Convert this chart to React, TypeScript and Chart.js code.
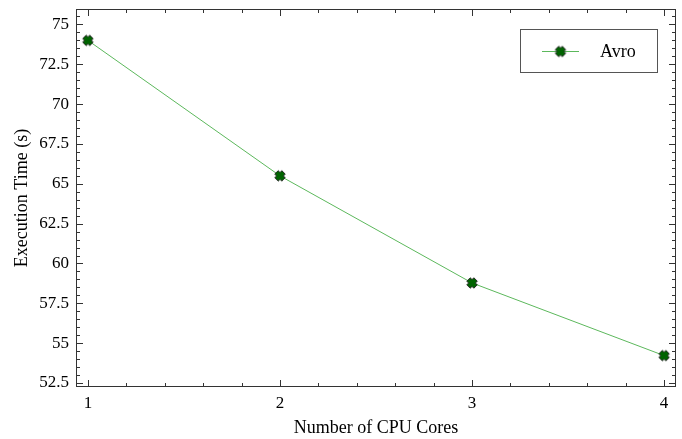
import React, { useEffect, useRef } from "react";
import { Chart, registerables } from "chart.js";

Chart.register(...registerables);

// ---- data ----
const cores = [1, 2, 3, 4];
const avroTimes = [74.0, 65.5, 58.78, 54.22];
const seriesLabel = "Avro";
const xTickValues = [1, 2, 3, 4];
const yTickValues = [52.5, 55, 57.5, 60, 62.5, 65, 67.5, 70, 72.5, 75];
const xTitle = "Number of CPU Cores";
const yTitle = "Execution Time (s)";

const X_MIN = 0.938;
const X_MAX = 4.062;
const Y_MIN = 52.25;
const Y_MAX = 75.97;
const X_MINOR_STEP = 0.2;
const Y_MINOR_STEP = 0.5;

const FONT = "'Liberation Serif', 'Times New Roman', serif";
const LINE_COLOR = "#5cb85c";
const AXIS_COLOR = "#333333";

function makeMarker(): HTMLCanvasElement {
  const c = document.createElement("canvas");
  const s = 14;
  c.width = s;
  c.height = s;
  const ctx = c.getContext("2d")!;
  ctx.translate(s / 2, s / 2);
  ctx.rotate(Math.PI / 4);
  const L = 5.0;
  const W = 2.4;
  ctx.beginPath();
  ctx.moveTo(-W, -L);
  ctx.lineTo(W, -L);
  ctx.lineTo(W, -W);
  ctx.lineTo(L, -W);
  ctx.lineTo(L, W);
  ctx.lineTo(W, W);
  ctx.lineTo(W, L);
  ctx.lineTo(-W, L);
  ctx.lineTo(-W, W);
  ctx.lineTo(-L, W);
  ctx.lineTo(-L, -W);
  ctx.lineTo(-W, -W);
  ctx.closePath();
  ctx.fillStyle = "#006400";
  ctx.fill();
  ctx.lineWidth = 0.9;
  ctx.strokeStyle = "#222222";
  ctx.stroke();
  return c;
}

function stepsBetween(lo: number, hi: number, step: number): number[] {
  const out: number[] = [];
  const start = Math.ceil(lo / step - 1e-9);
  const end = Math.floor(hi / step + 1e-9);
  for (let i = start; i <= end; i++) out.push(+(i * step).toFixed(6));
  return out;
}

const framePlugin = {
  id: "frameTicks",
  afterDraw(chart: any) {
    const { ctx, chartArea } = chart;
    const { left, right, top, bottom } = chartArea;
    const xs = chart.scales.x;
    const ys = chart.scales.y;
    ctx.save();
    ctx.strokeStyle = AXIS_COLOR;
    ctx.lineWidth = 1;
    // frame
    ctx.strokeRect(Math.round(left) + 0.5, Math.round(top) + 0.5, Math.round(right - left) - 1, Math.round(bottom - top) - 1);
    const MAJ = 7;
    const MIN = 4;
    const isMajor = (v: number, arr: number[]) => arr.some((a) => Math.abs(a - v) < 1e-6);
    ctx.beginPath();
    for (const v of stepsBetween(X_MIN, X_MAX, X_MINOR_STEP)) {
      const len = isMajor(v, xTickValues) ? MAJ : MIN;
      const px = Math.round(xs.getPixelForValue(v)) + 0.5;
      ctx.moveTo(px, bottom);
      ctx.lineTo(px, bottom - len);
      ctx.moveTo(px, top);
      ctx.lineTo(px, top + len);
    }
    for (const v of stepsBetween(Y_MIN, Y_MAX, Y_MINOR_STEP)) {
      const len = isMajor(v, yTickValues) ? MAJ : MIN;
      const py = Math.round(ys.getPixelForValue(v)) + 0.5;
      ctx.moveTo(left, py);
      ctx.lineTo(left + len, py);
      ctx.moveTo(right, py);
      ctx.lineTo(right - len, py);
    }
    ctx.stroke();

    // legend
    const bx = 520.5, by = 29.5, bw = 137, bh = 43;
    ctx.fillStyle = "#ffffff";
    ctx.fillRect(bx, by, bw, bh);
    ctx.strokeStyle = "#555555";
    ctx.strokeRect(bx, by, bw, bh);
    const ly = 51;
    ctx.strokeStyle = LINE_COLOR;
    ctx.beginPath();
    ctx.moveTo(542, ly + 0.5);
    ctx.lineTo(579, ly + 0.5);
    ctx.stroke();
    const m = chart.$marker as HTMLCanvasElement;
    if (m) ctx.drawImage(m, 560.5 - m.width / 2, ly + 0.5 - m.height / 2);
    ctx.fillStyle = "#000";
    ctx.font = `18px ${FONT}`;
    ctx.textAlign = "left";
    ctx.textBaseline = "middle";
    ctx.fillText(seriesLabel, 600, ly + 1);
    ctx.restore();
  },
};

export default function App() {
  const ref = useRef<HTMLCanvasElement | null>(null);
  useEffect(() => {
    if (!ref.current) return;
    const marker = makeMarker();
    const chart = new Chart(ref.current, {
      type: "line",
      data: {
        datasets: [
          {
            label: seriesLabel,
            data: cores.map((c, i) => ({ x: c, y: avroTimes[i] })),
            borderColor: LINE_COLOR,
            borderWidth: 1,
            tension: 0,
            pointStyle: marker as any,
            pointRadius: 5,
            fill: false,
          },
        ],
      },
      options: {
        animation: false,
        responsive: false,
        maintainAspectRatio: false,
        layout: { padding: { top: 9, right: 5, left: 0, bottom: 0 } },
        plugins: { legend: { display: false }, tooltip: { enabled: false } },
        scales: {
          x: {
            type: "linear",
            min: X_MIN,
            max: X_MAX,
            grid: { display: false, drawTicks: false },
            border: { display: false },
            afterBuildTicks: (s: any) => {
              s.ticks = xTickValues.map((v) => ({ value: v }));
            },
            afterFit: (s: any) => {
              s.height = 52;
              s.paddingLeft = 0;
              s.paddingRight = 0;
            },
            ticks: {
              color: "#000",
              font: { family: FONT, size: 17 },
              padding: 6,
              maxRotation: 0,
              autoSkip: false,
              callback: (v: any) => String(v),
            },
            title: {
              display: true,
              text: xTitle,
              color: "#000",
              font: { family: FONT, size: 18 },
              padding: { top: 0, bottom: 0 },
            },
          },
          y: {
            type: "linear",
            min: Y_MIN,
            max: Y_MAX,
            grid: { display: false, drawTicks: false },
            border: { display: false },
            afterBuildTicks: (s: any) => {
              s.ticks = yTickValues.map((v) => ({ value: v }));
            },
            afterFit: (s: any) => {
              s.width = 76;
              s.paddingTop = 0;
              s.paddingBottom = 0;
            },
            ticks: {
              color: "#000",
              font: { family: FONT, size: 17 },
              padding: 7,
              autoSkip: false,
              callback: (v: any) => String(v),
            },
            title: {
              display: true,
              text: yTitle,
              color: "#000",
              font: { family: FONT, size: 18 },
              padding: { top: 11, bottom: 0 },
            },
          },
        },
      },
      plugins: [framePlugin],
    });
    (chart as any).$marker = marker;
    chart.draw();
    return () => chart.destroy();
  }, []);
  return (
    <div style={{ position: "fixed", left: 0, top: 0, width: 682, height: 439, background: "#fff" }}>
      <canvas ref={ref} width={682} height={439} style={{ display: "block", width: 682, height: 439 }} />
    </div>
  );
}
